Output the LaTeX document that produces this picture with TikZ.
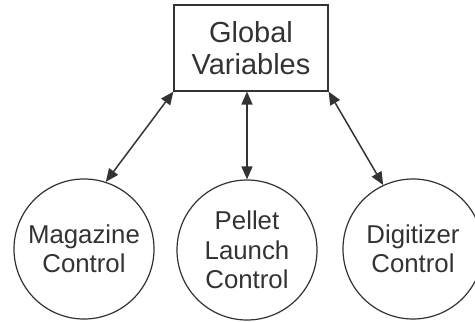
\documentclass[tikz,border=0pt]{standalone}
\usepackage{fontspec}
\setmainfont{Liberation Sans}
\usetikzlibrary{arrows.meta}
\definecolor{ink}{HTML}{333333}
\begin{document}
\begin{tikzpicture}[x=1pt,y=1pt,
  box/.style={draw=ink,line width=1.2pt,minimum width=154pt,minimum height=86pt,inner sep=0pt,
    align=center,text=ink,font=\fontsize{29}{32}\selectfont},
  ctrl/.style={draw=ink,circle,line width=1.2pt,minimum size=140pt,inner sep=0pt,
    align=center,text=ink,font=\fontsize{25.8}{29.5}\selectfont},
  link/.style={draw=ink,line width=1.5pt,{Triangle[length=13pt,width=11pt]}-{Triangle[length=13pt,width=11pt]}}]
\useasboundingbox (0,0) rectangle (475,322);
\node[box] (gv) at (251,274) {Global\\Variables};
\node[ctrl] (mag) at (84,73) {Magazine\\Control};
\node[ctrl] (pel) at (247,72) {Pellet\\Launch\\Control};
\node[ctrl] (dig) at (413,73) {Digitizer\\Control};
\draw[link] (gv.south west) -- (mag.72);
\draw[link] (pel.north |- gv.south) -- (pel.north);
\draw[link] (gv.south east) -- (dig.115);
\end{tikzpicture}
\end{document}
